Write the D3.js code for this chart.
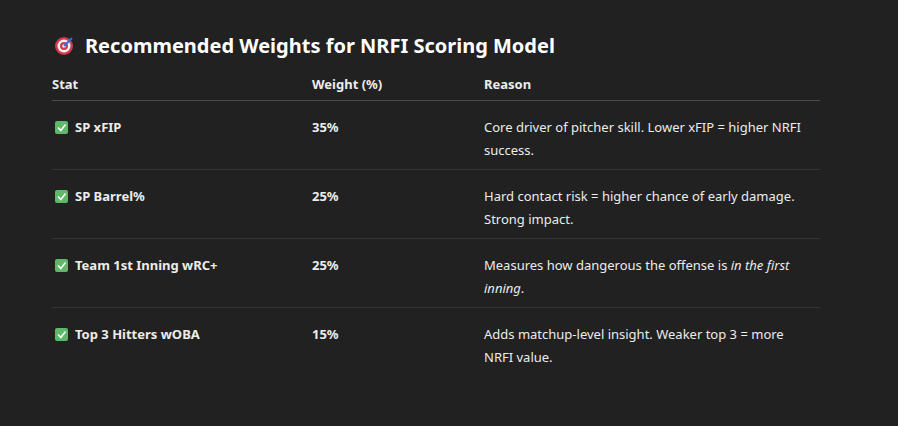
<!DOCTYPE html>
<html><head><meta charset="utf-8">
<script src="https://cdn.jsdelivr.net/npm/d3@7"></script>
<style>
body{margin:0;background:#212121;}
text{font-family:"Noto Sans","Open Sans",sans-serif;fill:#ececec;}
</style></head>
<body><svg id="chart" width="898" height="426"></svg>
<script>
// table data
const headers = ['Stat', 'Weight (%)', 'Reason'];
const stats = ['SP xFIP', 'SP Barrel%', 'Team 1st Inning wRC+', 'Top 3 Hitters wOBA'];
const weights = [35, 25, 25, 15];
// each reason: lines of [text, italic] pieces
const reasons = [
  [[['Core driver of pitcher skill. Lower xFIP = higher NRFI', false]], [['success.', false]]],
  [[['Hard contact risk = higher chance of early damage.', false]], [['Strong impact.', false]]],
  [[['Measures how dangerous the offense is ', false], ['in the first', true]], [['inning', true], ['.', false]]],
  [[['Adds matchup-level insight. Weaker top 3 = more', false]], [['NRFI value.', false]]]
];

const svg = d3.select('#chart');
const colX = [52, 312, 484];
const y = d3.scaleBand().domain(d3.range(stats.length)).range([100, 376]);

// title with target icon
const icon = svg.append('g').attr('transform', 'translate(64,46)');
[[9, '#d23a4b'], [6.5, '#f4f4f4'], [4, '#d23a4b'], [1.8, '#f4f4f4']].forEach(function(c){
  icon.append('circle').attr('r', c[0]).attr('fill', c[1]);
});
icon.append('line').attr('x1', 0).attr('y1', 0).attr('x2', 8).attr('y2', -8)
  .attr('stroke', '#3b6fd1').attr('stroke-width', 2);
svg.append('text').attr('x', 85).attr('y', 53).attr('font-size', 20).attr('font-weight', 700)
  .style('fill', '#ffffff').text('Recommended Weights for NRFI Scoring Model');

// header
svg.selectAll('text.hdr').data(headers).enter().append('text').attr('class', 'hdr')
  .attr('x', function(d, i){ return colX[i]; }).attr('y', 89)
  .attr('font-size', 13).attr('font-weight', 700).text(function(d){ return d; });
svg.append('line').attr('x1', 52).attr('x2', 820).attr('y1', 100.5).attr('y2', 100.5)
  .attr('stroke', '#4a4a4a');

const rows = svg.selectAll('g.row').data(stats).enter().append('g').attr('class', 'row')
  .attr('transform', function(d, i){ return 'translate(0,' + y(i) + ')'; });

rows.filter(function(d, i){ return i > 0; }).append('line')
  .attr('x1', 52).attr('x2', 820).attr('y1', 0.5).attr('y2', 0.5).attr('stroke', '#353535');

// check box icon
rows.append('rect').attr('x', 55).attr('y', 21).attr('width', 13).attr('height', 13).attr('rx', 2)
  .attr('fill', '#5fb86a');
rows.append('path').attr('d', 'M58,27.5 L60.8,30.5 L65.5,24.5').attr('fill', 'none')
  .attr('stroke', '#fff').attr('stroke-width', 1.6);

rows.append('text').attr('x', 75).attr('y', 32).attr('font-size', 13).attr('font-weight', 700)
  .text(function(d){ return d; });
rows.append('text').attr('x', colX[1]).attr('y', 32).attr('font-size', 13).attr('font-weight', 700)
  .text(function(d, i){ return weights[i] + '%'; });

rows.each(function(d, i){
  const g = d3.select(this);
  reasons[i].forEach(function(line, li){
    const t = g.append('text').attr('x', colX[2]).attr('y', 32 + li * 23).attr('font-size', 13);
    line.forEach(function(p){
      t.append('tspan').attr('font-style', p[1] ? 'italic' : 'normal').text(p[0]);
    });
  });
});
</script></body></html>
